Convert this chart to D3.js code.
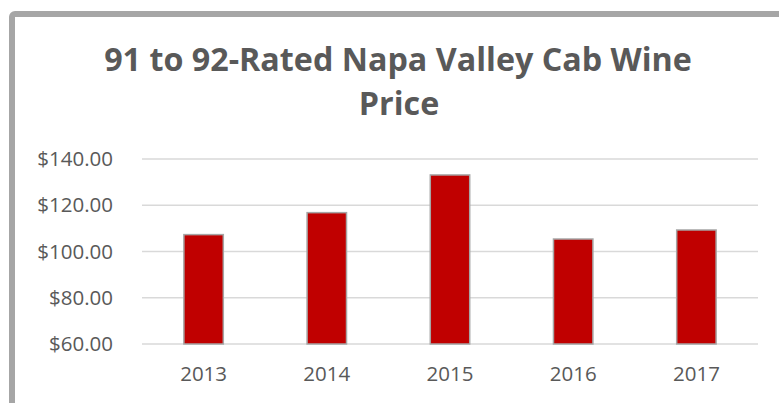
<!DOCTYPE html>
<html>
<head>
<meta charset="utf-8">
<script src="https://cdn.jsdelivr.net/npm/d3@7"></script>
<style>
  body { margin: 0; background: #fff; }
  svg { display: block; font-family: "Open Sans", sans-serif; }
</style>
</head>
<body>
<svg id="chart"></svg>
<script>
// chart data
const years = ["2013", "2014", "2015", "2016", "2017"];
const prices = [107.3, 116.8, 133.1, 105.4, 109.3];
const yTicks = [60, 80, 100, 120, 140];
const titleLines = ["91 to 92-Rated Napa Valley Cab Wine", "Price"];

const W = 779, H = 403;
const svg = d3.select("#chart")
    .attr("width", W)
    .attr("height", H);

// chart frame (runs off the right and bottom edges)
svg.append("rect")
    .attr("x", 12).attr("y", 14)
    .attr("width", 820).attr("height", 440)
    .attr("rx", 3)
    .attr("fill", "#fff")
    .attr("stroke", "#a6a6a6")
    .attr("stroke-width", 6);

// title, sized so line one spans about the same width as in the original
const title = svg.append("g").attr("fill", "#595959").attr("font-weight", 700);
const t1 = title.append("text")
    .attr("x", 398).attr("y", 71)
    .attr("text-anchor", "middle")
    .attr("font-size", 32)
    .text(titleLines[0]);
const fit = 32 * 588 / t1.node().getComputedTextLength();
t1.attr("font-size", fit);
title.append("text")
    .attr("x", 399).attr("y", 115)
    .attr("text-anchor", "middle")
    .attr("font-size", fit)
    .text(titleLines[1]);

const x = d3.scaleBand()
    .domain(years)
    .range([142, 758])
    .paddingInner(0.68)
    .paddingOuter(0.34);

const y = d3.scaleLinear()
    .domain([60, 140])
    .range([344, 159]);

// gridlines
svg.append("g")
    .selectAll("line")
    .data(yTicks)
    .join("line")
    .attr("x1", 142).attr("x2", 758)
    .attr("y1", d => y(d)).attr("y2", d => y(d))
    .attr("stroke", "#d9d9d9")
    .attr("stroke-width", 1.5);

// y axis labels
const yAxis = svg.append("g")
    .attr("transform", "translate(121,0)")
    .call(d3.axisLeft(y).tickValues(yTicks).tickSize(0).tickPadding(8)
        .tickFormat(d => "$" + d3.format(".2f")(d)));
yAxis.select(".domain").remove();
yAxis.selectAll("text")
    .attr("font-family", "Open Sans, sans-serif")
    .attr("font-size", 20.5)
    .attr("fill", "#595959");

// bars
svg.append("g")
    .selectAll("rect")
    .data(prices)
    .join("rect")
    .attr("x", (d, i) => x(years[i]))
    .attr("y", d => y(d))
    .attr("width", x.bandwidth())
    .attr("height", d => y(60) - y(d))
    .attr("fill", "#c00000")
    .attr("stroke", "#a6a6a6")
    .attr("stroke-width", 1.5);

// x axis labels
const xAxis = svg.append("g")
    .attr("transform", "translate(0,344)")
    .call(d3.axisBottom(x).tickSize(0).tickPadding(22));
xAxis.select(".domain").remove();
xAxis.selectAll("text")
    .attr("font-family", "Open Sans, sans-serif")
    .attr("font-size", 20.5)
    .attr("fill", "#595959");
</script>
</body>
</html>
